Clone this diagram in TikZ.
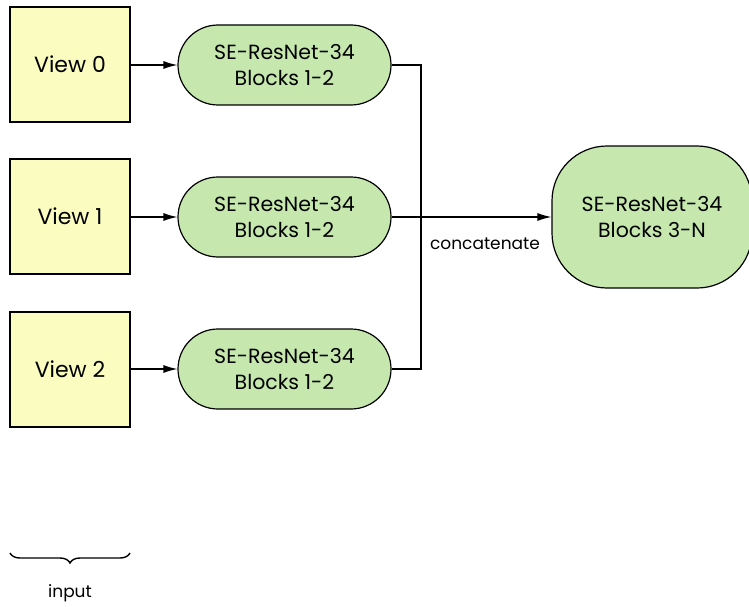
\documentclass[tikz,border=0pt]{standalone}
\usepackage{fontspec}
\setmainfont{Poppins}
\usetikzlibrary{arrows.meta,shapes.misc,decorations.pathreplacing}
\definecolor{viewfill}{HTML}{FAFCC0}
\definecolor{netfill}{HTML}{C6E8AE}
\begin{document}
\begin{tikzpicture}[x=1pt,y=-1pt,
  viewbox/.style={draw,line width=1.2pt,fill=viewfill,minimum width=120pt,minimum height=115pt,inner sep=0pt,font=\fontsize{22}{26}\selectfont},
  netbox/.style={draw,line width=1.2pt,fill=netfill,rounded rectangle,minimum width=213pt,minimum height=80pt,inner sep=0pt,align=center,font=\fontsize{20.5}{26}\selectfont},
  bignet/.style={draw,line width=1.2pt,fill=netfill,rounded corners=55pt,minimum width=200pt,minimum height=142pt,inner sep=0pt,align=center,font=\fontsize{20.5}{26}\selectfont},
  conn/.style={line width=1.2pt},
  arr/.style={conn,-{Latex[length=14pt,width=8pt]}},
  lbl/.style={font=\fontsize{17}{20}\selectfont}]
\useasboundingbox (0,0) rectangle (749,607);
\begin{scope}
\clip (0,0) rectangle (749,607);
\node[viewbox] (v0) at (70,64.5) {View 0};
\node[viewbox] (v1) at (70,216.5) {View 1};
\node[viewbox] (v2) at (70,369.5) {View 2};
\node[netbox] (n0) at (284.5,65) {SE-ResNet-34\\Blocks 1-2};
\node[netbox] (n1) at (284.5,217) {SE-ResNet-34\\Blocks 1-2};
\node[netbox] (n2) at (284.5,369) {SE-ResNet-34\\Blocks 1-2};
\node[bignet] (n3) at (652,217) {SE-ResNet-34\\Blocks 3-N};
\coordinate (j0) at (421,65);
\coordinate (j2) at (421,369);
\coordinate (jm) at (421,217);
\draw[arr] (v0.east |- n0) -- (n0.west);
\draw[arr] (v1.east |- n1) -- (n1.west);
\draw[arr] (v2.east |- n2) -- (n2.west);
\draw[conn] (n0.east) -- (j0) -- (jm);
\draw[conn] (n2.east) -- (j2) -- (jm);
\draw[arr] (n1.east) -- (n3.west);
\node[lbl] (cat) at (485,244) {concatenate};
\coordinate (b0) at (10,553);
\coordinate (b1) at (130,553);
\draw[conn,line width=1.4pt,decorate,decoration={brace,mirror,amplitude=10pt}] (b0) -- (b1);
\node[lbl] (inp) at (70,593) {input};
\end{scope}
\end{tikzpicture}
\end{document}
